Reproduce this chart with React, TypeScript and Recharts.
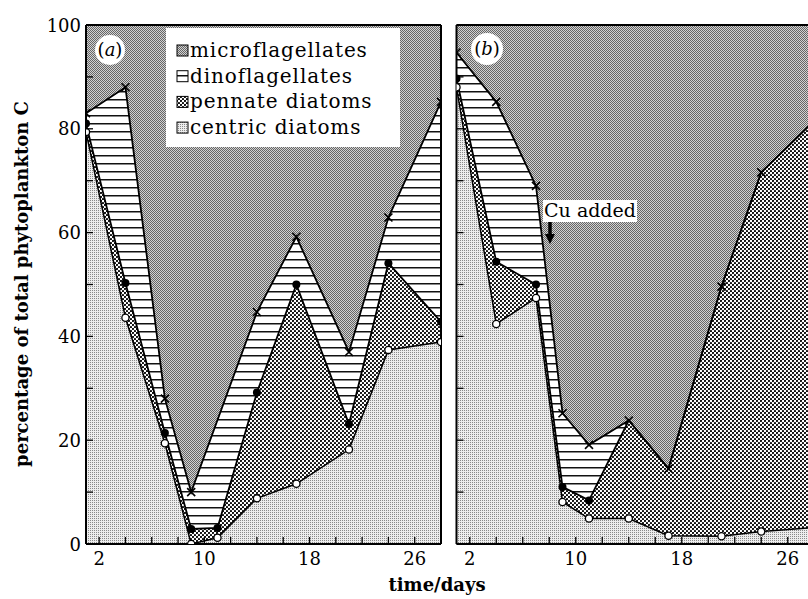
import React from 'react';
import { AreaChart, Area, XAxis, YAxis } from 'recharts';

// ---- data ----
const days = [1, 4, 7, 9, 11, 14, 17, 21, 24, 28];

// panel (a): cumulative boundaries (% of total phytoplankton C)
const totalA = [100, 100, 100, 100, 100, 100, 100, 100, 100, 100];
const dinoA = [83, 88, 28, 10, null, 44.7, 59.2, 37, 62.9, 85.2];
const pennateA = [81, 50.3, 21.4, 2.9, 3.1, 29.2, 50, 23.1, 54.1, 42.8];
const centricA = [79.4, 43.6, 19.4, 0, 1.2, 8.8, 11.6, 18.2, 37.4, 38.9];

// panel (b)
const totalB = [100, 100, 100, 100, 100, 100, 100, 100, 100, 100];
const dinoB = [94.7, 85.2, 69, 25.2, 19.1, 23.8, 14.5, 49.6, 71.6, 81.5];
const pennateB = [89.7, 54.4, 50, 11, 8.4, 23.8, 14.5, 49.6, 71.6, 81.5];
const centricB = [88, 42.4, 47.4, 8.1, 4.9, 4.9, 1.6, 1.5, 2.4, 3.2];

const xTicks = [2, 4, 6, 8, 10, 12, 14, 16, 18, 20, 22, 24, 26];
const xTickLabels = [2, 10, 18, 26];
const yTicks = [0, 10, 20, 30, 40, 50, 60, 70, 80, 90, 100];
const yTickLabels = [0, 20, 40, 60, 80, 100];

const legendLabels = ['microflagellates', 'dinoflagellates', 'pennate diatoms', 'centric diatoms'];
const legendFills = ['url(#pMicro)', 'url(#pDino)', 'url(#pPennate)', 'url(#pCentric)'];

const FONT = "'DejaVu Serif', serif";

function buildRows(total: number[], dino: (number | null)[], pennate: number[], centric: number[]) {
  return days.map((d, i) => ({ day: d, total: total[i], dino: dino[i], pennate: pennate[i], centric: centric[i] }));
}

const rowsA = buildRows(totalA, dinoA, pennateA, centricA);
const rowsB = buildRows(totalB, dinoB, pennateB, centricB);

// ---- marks ----
const crossDot = (props: any) => {
  const { cx, cy, payload, index } = props;
  if (cx == null || cy == null || payload == null || payload.dino == null) return <g key={'c' + index} />;
  const s = 4;
  return (
    <path key={'c' + index} d={`M${cx - s},${cy - s}L${cx + s},${cy + s}M${cx - s},${cy + s}L${cx + s},${cy - s}`} stroke="#000" strokeWidth={1.6} fill="none" />
  );
};

const filledDot = (props: any) => {
  const { cx, cy, payload, index } = props;
  if (cx == null || cy == null || payload == null || payload.pennate == null || payload.pennate === payload.dino) return <g key={'f' + index} />;
  return <circle key={'f' + index} cx={cx} cy={cy} r={4} fill="#000" />;
};

const openDot = (props: any) => {
  const { cx, cy, payload, index } = props;
  if (cx == null || cy == null || payload == null || payload.centric == null) return <g key={'o' + index} />;
  return <circle key={'o' + index} cx={cx} cy={cy} r={3.6} fill="#fff" stroke="#000" strokeWidth={1.3} />;
};

const makeYTick = (showLabels: boolean) => (props: any) => {
  const { x, y, payload } = props;
  const v = payload.value;
  return (
    <g>
      <line x1={x} y1={y} x2={x + 7} y2={y} stroke="#000" strokeWidth={1.3} />
      {showLabels && yTickLabels.includes(v) ? (
        <text x={x - 5} y={y + 6.5} textAnchor="end" fontSize={18} fontFamily={FONT} fill="#000">{v}</text>
      ) : null}
    </g>
  );
};

const xTick = (props: any) => {
  const { x, y, payload } = props;
  const v = payload.value;
  return (
    <g>
      <line x1={x} y1={y} x2={x} y2={y - 7} stroke="#000" strokeWidth={1.3} />
      {xTickLabels.includes(v) ? (
        <text x={x} y={y + 21} textAnchor="middle" fontSize={18} fontFamily={FONT} fill="#000">{v}</text>
      ) : null}
    </g>
  );
};

function Panel({ rows, width, height, plotLeft, plotRight, plotTop, plotBottom, showYLabels }: any) {
  const axisLine = { stroke: '#000', strokeWidth: 2 };
  const margin = { top: plotTop - 1, left: plotLeft - 1, bottom: height - plotBottom - 1, right: width - plotRight - 1 };
  return (
    <AreaChart width={width} height={height} data={rows} margin={margin}>
      <Area type="linear" dataKey="total" stroke="none" fill="url(#pMicro)" fillOpacity={1} isAnimationActive={false} dot={false} activeDot={false} baseValue={0} />
      <Area type="linear" dataKey="dino" stroke="#000" strokeWidth={1.8} fill="url(#pDino)" fillOpacity={1} isAnimationActive={false} connectNulls dot={crossDot} activeDot={false} baseValue={0} />
      <Area type="linear" dataKey="pennate" stroke="#000" strokeWidth={1.8} fill="url(#pPennate)" fillOpacity={1} isAnimationActive={false} connectNulls dot={filledDot} activeDot={false} baseValue={0} />
      <Area type="linear" dataKey="centric" stroke="#000" strokeWidth={1.5} fill="url(#pCentric)" fillOpacity={1} isAnimationActive={false} connectNulls dot={openDot} activeDot={false} baseValue={0} />
      <XAxis dataKey="day" type="number" domain={[1, 28]} ticks={xTicks} interval={0} tick={xTick} tickLine={false} tickSize={0} tickMargin={0} axisLine={axisLine} height={1} allowDataOverflow />
      <XAxis xAxisId="top" orientation="top" type="number" domain={[1, 28]} tick={false} tickLine={false} axisLine={axisLine} height={1} allowDataOverflow />
      <YAxis type="number" domain={[0, 100]} ticks={yTicks} interval={0} tick={makeYTick(showYLabels)} tickLine={false} tickSize={0} tickMargin={0} axisLine={axisLine} width={1} allowDataOverflow />
      <YAxis yAxisId="right" orientation="right" type="number" domain={[0, 100]} tick={false} tickLine={false} axisLine={axisLine} width={1} allowDataOverflow />
    </AreaChart>
  );
}

export default function App() {
  return (
    <div style={{ position: 'fixed', left: 0, top: 0, width: 808, height: 599, overflow: 'hidden', background: '#fff' }}>
      <svg width={0} height={0} style={{ position: 'absolute' }}>
        <defs>
          <pattern id="pMicro" patternUnits="userSpaceOnUse" width={2} height={2}>
            <rect width={2} height={2} fill="#d2d2d2" />
            <rect x={0} y={0} width={1} height={1} fill="#666666" />
            <rect x={1} y={1} width={1} height={1} fill="#666666" />
          </pattern>
          <pattern id="pDino" patternUnits="userSpaceOnUse" width={8} height={8}>
            <rect width={8} height={8} fill="#fff" />
            <rect x={0} y={3} width={8} height={1.5} fill="#111" />
          </pattern>
          <pattern id="pPennate" patternUnits="userSpaceOnUse" width={4} height={4}>
            <rect width={4} height={4} fill="#fff" />
            <circle cx={1} cy={1} r={1.1} fill="#000" />
            <circle cx={3} cy={3} r={1.1} fill="#000" />
          </pattern>
          <pattern id="pCentric" patternUnits="userSpaceOnUse" width={2} height={2}>
            <rect width={2} height={2} fill="#ededed" />
            <rect x={0} y={0} width={1} height={1} fill="#8a8a8a" />
          </pattern>
        </defs>
      </svg>

      <div style={{ position: 'absolute', left: 0, top: 0 }}>
        <Panel rows={rowsA} width={460} height={599} plotLeft={86} plotRight={441} plotTop={25} plotBottom={544} showYLabels={true} />
      </div>
      <div style={{ position: 'absolute', left: 440, top: 0 }}>
        <Panel rows={rowsB} width={380} height={599} plotLeft={16.5} plotRight={374.25} plotTop={25} plotBottom={544} showYLabels={false} />
      </div>

      <svg width={808} height={599} style={{ position: 'absolute', left: 0, top: 0, pointerEvents: 'none' }}>
        {/* legend */}
        <rect x={166} y={28} width={234} height={119} fill="#fff" />
        {legendLabels.map((lab, i) => {
          const base = 57 + i * 25.7;
          return (
            <g key={lab}>
              <rect x={177} y={base - 12} width={11} height={11} fill={legendFills[i]} stroke="#000" strokeWidth={1} />
              <text x={190} y={base} fontSize={20} fontFamily={FONT} letterSpacing={0.9} fill="#000">{lab}</text>
            </g>
          );
        })}

        {/* panel labels */}
        <circle cx={110} cy={50} r={15} fill="#fff" />
        <text x={110} y={56} textAnchor="middle" fontSize={18} fontFamily={FONT} fill="#000">
          (<tspan fontStyle="italic">a</tspan>)
        </text>
        <circle cx={487} cy={49} r={16} fill="#fff" />
        <text x={487} y={55} textAnchor="middle" fontSize={18} fontFamily={FONT} fill="#000">
          (<tspan fontStyle="italic">b</tspan>)
        </text>

        {/* Cu added annotation */}
        <rect x={543} y={200} width={94} height={22} fill="#fff" />
        <text x={590} y={217} textAnchor="middle" fontSize={19} fontFamily={FONT} fill="#000">Cu added</text>
        <line x1={550} y1={222} x2={550} y2={236} stroke="#000" strokeWidth={3.5} />
        <polygon points="545,234 555,234 550,244" fill="#000" />

        {/* axis titles */}
        <text transform="translate(28,284) rotate(-90)" textAnchor="middle" fontSize={18} fontWeight="bold" fontFamily={FONT} fill="#000">percentage of total phytoplankton C</text>
        <text x={437} y={591} textAnchor="middle" fontSize={18} fontWeight="bold" fontFamily={FONT} fill="#000">time/days</text>
      </svg>
    </div>
  );
}
